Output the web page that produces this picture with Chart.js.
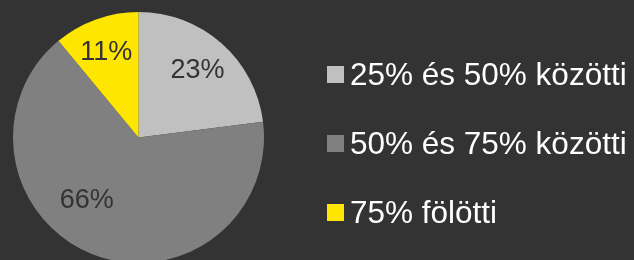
<!DOCTYPE html>
<html>
<head>
<meta charset="utf-8">
<script src="https://cdn.jsdelivr.net/npm/chart.js@4/dist/chart.umd.min.js"></script>
<style>
    html, body {
        margin: 0;
        padding: 0;
        background: #333333;
        overflow: hidden;
        width: 634px;
        height: 260px;
    }
    #wrap {
        position: relative;
        width: 634px;
        height: 260px;
    }
    #pie-chart {
        position: absolute;
        left: 0;
        top: 0;
    }
    #legend {
        position: absolute;
        left: 327px;
        top: 58.5px;
        margin: 0;
        padding: 0;
        list-style: none;
        font-family: "Liberation Sans", Arial, sans-serif;
        font-size: 31.5px;
        color: #ffffff;
    }
    #legend li {
        display: flex;
        align-items: center;
        height: 31px;
        line-height: 31px;
        margin-bottom: 38px;
        white-space: nowrap;
    }
    #legend .box {
        display: inline-block;
        width: 17px;
        height: 17px;
        margin-right: 6px;
    }
</style>
</head>
<body>
<div id="wrap">
    <canvas id="pie-chart" width="634" height="275"></canvas>
    <ul id="legend"></ul>
</div>
<script>
const categories = ["25% és 50% közötti", "50% és 75% közötti", "75% fölötti"];
const shares = [23, 66, 11];
const colors = ["#c0c0c0", "#808080", "#ffe600"];

// percent labels inside the slices (no datalabels plugin available offline)
const sliceLabels = {
    id: 'sliceLabels',
    afterDatasetsDraw(chart, args, opts) {
        const ctx = chart.ctx;
        const data = chart.data.datasets[0].data;
        const total = data.reduce((a, b) => a + b, 0);
        ctx.save();
        ctx.font = '27px "Liberation Sans", Arial, sans-serif';
        ctx.fillStyle = '#333333';
        ctx.textAlign = 'center';
        ctx.textBaseline = 'middle';
        chart.getDatasetMeta(0).data.forEach((arc, i) => {
            const mid = (arc.startAngle + arc.endAngle) / 2;
            const r = arc.outerRadius * opts.radius;
            const nudge = opts.nudge[i] || [0, 0];
            const x = arc.x + Math.cos(mid) * r + nudge[0];
            const y = arc.y + Math.sin(mid) * r + nudge[1];
            ctx.fillText(Math.round(data[i] / total * 100) + '%', x, y);
        });
        ctx.restore();
    }
};

// html legend built from the chart's own legend items
const htmlLegend = {
    id: 'htmlLegend',
    afterUpdate(chart) {
        const list = document.getElementById('legend');
        list.innerHTML = '';
        const items = chart.options.plugins.legend.labels.generateLabels(chart);
        items.forEach(item => {
            const li = document.createElement('li');
            const box = document.createElement('span');
            box.className = 'box';
            box.style.background = item.fillStyle;
            const text = document.createElement('span');
            text.textContent = item.text;
            li.appendChild(box);
            li.appendChild(text);
            list.appendChild(li);
        });
    }
};

new Chart(document.getElementById('pie-chart'), {
    type: 'pie',
    data: {
        labels: categories,
        datasets: [{
            data: shares,
            backgroundColor: colors,
            borderWidth: 0
        }]
    },
    options: {
        responsive: false,
        animation: false,
        layout: {
            padding: {left: 13, right: 370, top: 0, bottom: 0}
        },
        plugins: {
            legend: {display: false},
            tooltip: {enabled: false},
            sliceLabels: {
                radius: 0.71,
                nudge: [[0, 0], [-19, -20], [-2, -1]]
            }
        }
    },
    plugins: [sliceLabels, htmlLegend]
});
</script>
</body>
</html>
